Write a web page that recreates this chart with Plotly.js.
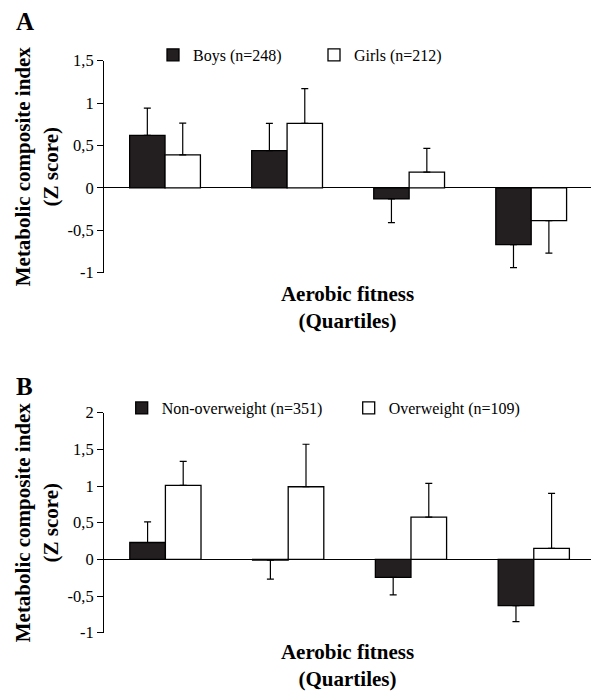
<!DOCTYPE html>
<html>
<head>
<meta charset="utf-8">
<script src="https://cdn.plot.ly/plotly-3.0.1.min.js"></script>
<style>html,body{margin:0;padding:0;background:#fff;}#chart{width:591px;height:691px;}</style>
</head>
<body>
<div id="chart"></div>
<script>
// ---- data ----
const quartiles = ['Q1', 'Q2', 'Q3', 'Q4'];

const boysName = 'Boys (n=248)';
const boysValues = [0.62, 0.44, -0.13, -0.67];
const boysErrors = [0.32, 0.32, 0.28, 0.27];

const girlsName = 'Girls (n=212)';
const girlsValues = [0.39, 0.76, 0.185, -0.385];
const girlsErrors = [0.375, 0.41, 0.28, 0.385];

const nonOwName = 'Non-overweight (n=351)';
const nonOwValues = [0.23, -0.01, -0.245, -0.63];
const nonOwErrors = [0.28, 0.26, 0.24, 0.22];

const owName = 'Overweight (n=109)';
const owValues = [1.01, 0.99, 0.575, 0.15];
const owErrors = [0.325, 0.58, 0.46, 0.75];

const tickValsA = [-1, -0.5, 0, 0.5, 1, 1.5];
const tickTextA = ['-1', '-0,5', '0', '0,5', '1', '1,5'];
const tickValsB = [-1, -0.5, 0, 0.5, 1, 1.5, 2];
const tickTextB = ['-1', '-0,5', '0', '0,5', '1', '1,5', '2'];

const yTitle = 'Metabolic composite index<br>(Z score)';
const xTitle = 'Aerobic fitness<br>(Quartiles)';

// ---- styling ----
const SERIF = '"Liberation Serif", "Times New Roman", Times, serif';
const DARK = '#231f20';

function errUp(vals, errs) { return vals.map((v, i) => v >= 0 ? errs[i] : 0); }
function errDown(vals, errs) { return vals.map((v, i) => v < 0 ? errs[i] : 0); }

function barTrace(name, vals, errs, fill, xa, ya, leg) {
  return {
    type: 'bar', name: name, x: quartiles, y: vals,
    xaxis: xa, yaxis: ya, legend: leg,
    marker: { color: fill, line: { color: '#000', width: 1.3 } },
    error_y: {
      type: 'data', symmetric: false,
      array: errUp(vals, errs), arrayminus: errDown(vals, errs),
      color: '#000', thickness: 1.2, width: 3.5
    },
    hoverinfo: 'skip'
  };
}

const data = [
  barTrace(boysName, boysValues, boysErrors, DARK, 'x', 'y', 'legend'),
  barTrace(girlsName, girlsValues, girlsErrors, '#ffffff', 'x', 'y', 'legend'),
  barTrace(nonOwName, nonOwValues, nonOwErrors, DARK, 'x2', 'y2', 'legend2'),
  barTrace(owName, owValues, owErrors, '#ffffff', 'x2', 'y2', 'legend2')
];

const tickFont = { family: SERIF, size: 16.5, color: '#000' };
const titleFont = { family: SERIF, size: 21, color: '#000', weight: 'bold' };

function xAxis(anchor, range) {
  return {
    anchor: anchor, domain: [104 / 591, 1], range: range, type: 'category',
    showticklabels: false, ticks: '', showline: false, showgrid: false, zeroline: false,
    title: { text: xTitle, font: titleFont, standoff: 13 }
  };
}
function yAxis(anchor, domain, range, tv, tt) {
  return {
    anchor: anchor, domain: domain, range: range,
    tickvals: tv, ticktext: tt, tickfont: tickFont,
    ticks: 'outside', ticklen: 6, tickwidth: 1, tickcolor: '#000',
    showline: true, linecolor: '#000', linewidth: 1,
    showgrid: false, zeroline: true, zerolinecolor: '#000', zerolinewidth: 1,
    title: { text: yTitle, font: titleFont, standoff: 3 }
  };
}

const layout = {
  width: 591, height: 691,
  margin: { l: 0, r: 0, t: 0, b: 0 },
  paper_bgcolor: '#fff', plot_bgcolor: '#fff',
  separators: ',.',
  barmode: 'group', bargap: 0.42, bargroupgap: 0,
  font: { family: SERIF, color: '#000' },
  xaxis: xAxis('y', [-0.5, 3.49]),
  yaxis: yAxis('x', [1 - 272.7 / 691, 1 - 60.7 / 691], [-1, 1.5], tickValsA, tickTextA),
  xaxis2: xAxis('y2', [-0.5, 3.466]),
  yaxis2: yAxis('x2', [1 - 632.7 / 691, 1 - 412.7 / 691], [-1, 2], tickValsB, tickTextB),
  legend: {
    orientation: 'h', x: 153 / 591, xanchor: 'left', y: 1 - 55 / 691, yanchor: 'middle',
    font: { family: SERIF, size: 16, color: '#000' }, entrywidth: 116,
    bgcolor: 'rgba(0,0,0,0)', traceorder: 'normal'
  },
  legend2: {
    orientation: 'h', x: 121.7 / 591, xanchor: 'left', y: 1 - 408 / 691, yanchor: 'middle',
    font: { family: SERIF, size: 16, color: '#000' }, entrywidth: 182,
    bgcolor: 'rgba(0,0,0,0)', traceorder: 'normal'
  },
  annotations: [
    { text: 'A', xref: 'paper', yref: 'paper', x: 14 / 591, y: 1 - 21.5 / 691,
      xanchor: 'left', yanchor: 'middle', showarrow: false,
      font: { family: SERIF, size: 25, color: '#000', weight: 'bold' } },
    { text: 'B', xref: 'paper', yref: 'paper', x: 14 / 591, y: 1 - 386.5 / 691,
      xanchor: 'left', yanchor: 'middle', showarrow: false,
      font: { family: SERIF, size: 25, color: '#000', weight: 'bold' } }
  ],
  showlegend: true
};

Plotly.newPlot('chart', data, layout, { displayModeBar: false, staticPlot: true });
</script>
</body>
</html>
